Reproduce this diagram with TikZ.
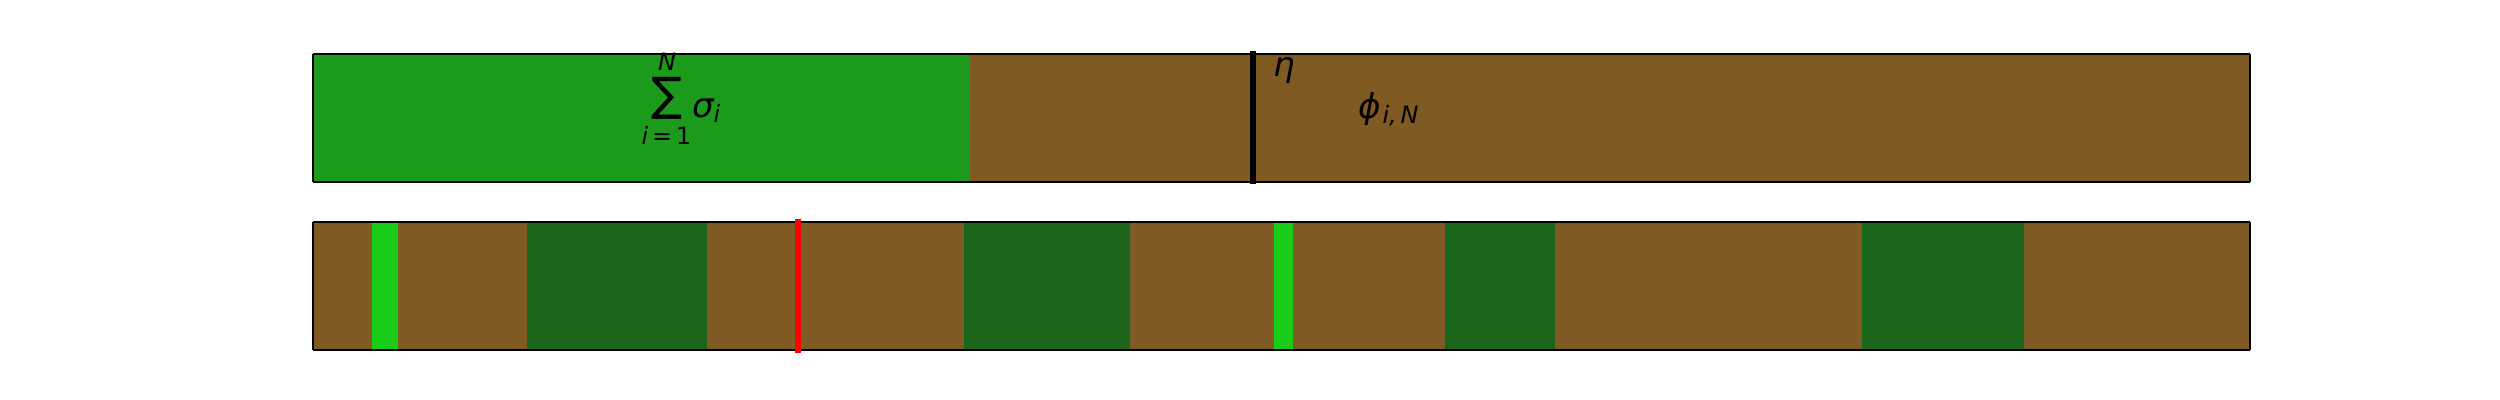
\documentclass[tikz,border=0pt]{standalone}
\usepackage{fontspec}
\setmainfont{DejaVu Sans}
\usepackage{graphicx}
\definecolor{topgreen}{RGB}{27,154,27}
\definecolor{brownc}{RGB}{127,90,34}
\definecolor{darkg}{RGB}{27,102,27}
\definecolor{lightg}{RGB}{25,204,25}
\begin{document}
\begin{tikzpicture}[x=0.01cm,y=-0.01cm,
  seg/.style={draw=none},
  lbl/.style={inner sep=0pt,outer sep=0pt,font=\fontsize{9.7}{11}\selectfont\itshape},
  sublbl/.style={inner sep=0pt,outer sep=0pt,font=\fontsize{6.8}{8}\selectfont\itshape},
  edgeh/.style={line width=0.02cm,black},
  edgev/.style={line width=0.013cm,black}]
\useasboundingbox (0,0) rectangle (2500,400);
\fill[white] (0,0) rectangle (2500,400);
% top bar
\fill[brownc] (313,54) rectangle (2250,182);
\fill[topgreen] (313,54) rectangle (970,182);
\draw[edgeh] (313,54) -- (2250,54);
\draw[edgeh] (313,182) -- (2250,182);
\draw[edgev] (313,54) -- (313,182);
\draw[edgev] (2250,54) -- (2250,182);
\draw[line width=0.055cm,black] (1253,51) -- (1253,184);
% labels top
\node[inner sep=0pt,outer sep=0pt] (sum) at (667.5,98) {\resizebox*{!}{0.42cm}{∑}};
\node[sublbl,anchor=base] (sumN) at (667,70) {N};
\node[sublbl,anchor=base] (sumi) at (666.5,144) {i\,{\upshape=\,1}};
\node[lbl,anchor=base west] (sigma) at (692,117) {σ};
\node[sublbl,anchor=base west] (sigmai) at (sigma.base east) [yshift=-0.05cm] {i};
\node[lbl,anchor=base west] (eta) at (1273,77) {η};
\node[lbl,anchor=base west] (phi) at (1358,118) {ϕ};
\node[sublbl,anchor=base west] (phiiN) at (phi.base east) [yshift=-0.05cm,xshift=0.02cm] {i,\,N};
% bottom bar
\fill[brownc] (313,222) rectangle (2250,350);
\fill[lightg] (371.5,222) rectangle (398,350);
\fill[darkg] (527,222) rectangle (707,350);
\fill[darkg] (964,222) rectangle (1130,350);
\fill[lightg] (1274,222) rectangle (1293,350);
\fill[darkg] (1445,222) rectangle (1555,350);
\fill[darkg] (1862,222) rectangle (2024,350);
\draw[edgeh] (313,222) -- (2250,222);
\draw[edgeh] (313,350) -- (2250,350);
\draw[edgev] (313,222) -- (313,350);
\draw[edgev] (2250,222) -- (2250,350);
\draw[line width=0.06cm,red] (798,219) -- (798,352.5);
\end{tikzpicture}
\end{document}
